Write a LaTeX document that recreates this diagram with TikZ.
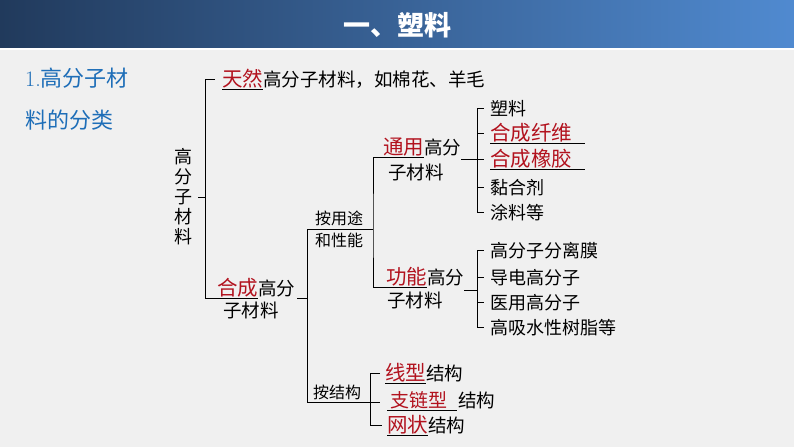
\documentclass[tikz,border=0pt]{standalone}
\usepackage{fontspec}
\newfontfamily\cjk{Noto Sans CJK SC}
\usepackage{xcolor}
\definecolor{KeyRed}{RGB}{178,18,30}
\definecolor{HeadBlue}{RGB}{30,110,184}
\definecolor{BarDark}{RGB}{33,58,92}
\definecolor{BarLight}{RGB}{80,138,208}
\definecolor{PageGray}{RGB}{240,240,240}
\newsavebox\kwbox
\newcommand{\kwline}[1]{\sbox\kwbox{#1}\rlap{\rule[-3.5pt]{\wd\kwbox}{0.8pt}}\usebox\kwbox}
\newcommand{\kw}[2][0pt]{\kwline{\textcolor{KeyRed}{\fontsize{20.5}{22}\selectfont #2}\hspace{#1}}}
\tikzset{
  txt/.style={inner sep=0pt, anchor=base west, font=\cjk\fontsize{18.5}{20}\selectfont},
  small/.style={txt, font=\cjk\fontsize{16}{18}\selectfont},
  item/.style={txt, font=\cjk\fontsize{18}{20}\selectfont},
  head/.style={txt, font=\cjk\fontsize{22}{24}\selectfont, text=HeadBlue},
  title/.style={inner sep=0pt, font=\cjk\bfseries\fontsize{27}{30}\selectfont, text=white},
  line/.style={draw=black, line width=0.9pt},
}

\begin{document}
\begin{tikzpicture}[x=1pt,y=-1pt]
            \useasboundingbox (0,0) rectangle (794,447);
            \fill[PageGray] (0,0) rectangle (794,447);
            \shade[left color=BarDark, right color=BarLight] (0,0) rectangle (794,48);
            \draw[white, line width=1.5pt] (0,49) -- (794,49);
            \node[title] (title) at (397,25) {一、塑料};

            \node[head] (head1) at (25,86) {{\rmfamily 1.}高分子材};
            \node[head] (head2) at (25,128) {料的分类};

            % tree
            \node[txt, anchor=center, align=center, font=\cjk\fontsize{18}{20}\selectfont] (root) at (183,197) {高\\分\\子\\材\\料};
            \node[txt] (tianran) at (222,86) {\kw{天然}高分子材料，如棉花、羊毛};
            \node[txt] (hecheng) at (217,295) {\kw{合成}高分};
            \node[txt] (hecheng2) at (223,317) {子材料};
            \node[small] (yongtu) at (315,224) {按用途};
            \node[small] (xingneng) at (315,246) {和性能};
            \node[small] (jiegou) at (313,398) {按结构};
            \node[txt] (tongyong) at (383,154) {\kw{通用}高分};
            \node[txt] (tongyong2) at (388,179) {子材料};
            \node[txt] (gongneng) at (386,284) {\kw{功能}高分};
            \node[txt] (gongneng2) at (387,307) {子材料};
            \node[txt] (xianxing) at (385,380) {\kw{线型}结构};
            \node[txt] (zhilian) at (387,407) {\kwline{\hspace{3pt}\textcolor{KeyRed}{\fontsize{19}{20}\selectfont 支链型}\hspace{10pt}}\hspace{1pt}结构};
            \node[txt] (wangzhuang) at (387,432) {\kw{网状}结构};

            \node[item] (i1) at (490,115) {塑料};
            \node[item] (i2) at (490,140) {\kw[13pt]{合成纤维}};
            \node[item] (i3) at (490,166) {\kw[13pt]{合成橡胶}};
            \node[item] (i4) at (490,194) {黏合剂};
            \node[item] (i5) at (490,219) {涂料等};
            \node[item] (k1) at (490,257) {高分子分离膜};
            \node[item] (k2) at (490,284) {导电高分子};
            \node[item] (k3) at (490,309) {医用高分子};
            \node[item] (k4) at (490,334) {高吸水性树脂等};

            % junctions
            \coordinate (s1) at (205,0);
            \coordinate (j2) at (307,229);
            \coordinate (j2b) at (307,402);
            \coordinate (j3) at (373,229);
            \coordinate (s4) at (370,0);
            \coordinate (s5) at (477,0);

            \draw[line] ([xshift=6pt]root.east) -- (root.east -| s1);
            \draw[line] ([xshift=-7pt]tianran.west) -| ([yshift=-3pt]hecheng.base west -| s1) -- ([yshift=-3pt]hecheng.base west);

            \draw[line] ([xshift=2pt,yshift=-3pt]hecheng.base east) -- ([yshift=-3pt]hecheng.base east -| j2);
            \draw[line] (j2) -- (j2b) -- ([xshift=-7pt]zhilian.west |- j2b);
            \draw[line] (j2) -- (j3);
            \draw[line] ([yshift=-3pt]tongyong.base west) -| (j3) |- ([yshift=-3pt]gongneng.base west);

            \draw[line] ([xshift=-5pt]xianxing.west) -| (s4 |- wangzhuang.west) -- ([xshift=-5pt]wangzhuang.west);

            \draw[line] ([yshift=-5pt]tongyong.base east) -- ([yshift=-5pt]tongyong.base east -| s5);
            \draw[line] (i1.west -| s5) -- (i5.west -| s5);
            \foreach \n in {i1,i2,i3,i4,i5}
                \draw[line] (\n.west -| s5) -- ([xshift=-6pt]\n.west);

            \draw[line] ([yshift=-6pt]gongneng.base east) -- ([yshift=-6pt]gongneng.base east -| s5);
            \draw[line] (k1.west -| s5) -- (k4.west -| s5);
            \foreach \n in {k1,k2,k3,k4}
                \draw[line] (\n.west -| s5) -- ([xshift=-6pt]\n.west);
        \end{tikzpicture}
\end{document}
